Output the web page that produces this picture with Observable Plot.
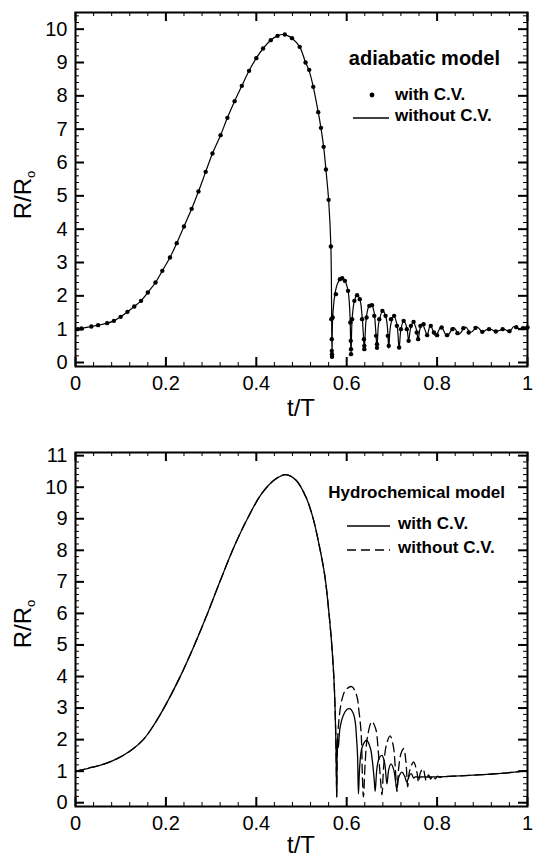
<!DOCTYPE html>
<html>
<head>
<meta charset="utf-8">
<script src="https://cdn.jsdelivr.net/npm/d3@7"></script>
<script src="https://cdn.jsdelivr.net/npm/@observablehq/plot@0.6"></script>
<style>
  body { margin: 0; background: #fff; font-family: "Liberation Sans", Arial, sans-serif; color: #000; }
  #wrap { position: relative; width: 536px; height: 859px; overflow: hidden; background: #fff; }
  .panel { position: absolute; left: 0; }
  .ov { position: absolute; white-space: nowrap; line-height: 1; }
  .rot { transform: translate(-50%, -50%) rotate(-90deg); }
  .ctr { transform: translate(-50%, -50%); }
  .mid { transform: translateY(-50%); }
  .bold { font-weight: bold; }
</style>
</head>
<body>
<div id="wrap"></div>
<script>
// ---------- tick labels ----------
const xTicks = [0, 0.2, 0.4, 0.6, 0.8, 1];
const yTicksTop = [0, 1, 2, 3, 4, 5, 6, 7, 8, 9, 10];
const yTicksBottom = [0, 1, 2, 3, 4, 5, 6, 7, 8, 9, 10, 11];

// ---------- top panel: adiabatic model ----------
const adiabT = [0, 0.013, 0.035, 0.05, 0.07, 0.085, 0.1, 0.115, 0.13, 0.145, 0.16, 0.177, 0.192, 0.209, 0.224, 0.24, 0.257, 0.272, 0.288, 0.303, 0.321, 0.336, 0.352, 0.368, 0.384, 0.4, 0.415, 0.432, 0.447, 0.458, 0.47, 0.479, 0.496, 0.509, 0.517, 0.526, 0.537, 0.543, 0.549, 0.554, 0.56, 0.565, 0.5675,
  0.569, 0.574, 0.58, 0.589, 0.596, 0.603, 0.607, 0.6095,
  0.612, 0.617, 0.623, 0.629, 0.634, 0.637, 0.639,
  0.643, 0.648, 0.654, 0.66, 0.664, 0.667,
  0.671, 0.68, 0.687, 0.691, 0.693,
  0.697, 0.704, 0.711, 0.716,
  0.72, 0.726, 0.733, 0.737,
  0.741, 0.747, 0.754, 0.758,
  0.762, 0.767, 0.774, 0.778,
  0.785, 0.791, 0.797, 0.809, 0.822, 0.837, 0.848, 0.863, 0.874, 0.889, 0.9, 0.915, 0.93, 0.948, 0.96, 0.97, 0.981, 0.996, 1.0];
const adiabR = [1.0, 1.02, 1.08, 1.12, 1.18, 1.25, 1.37, 1.52, 1.68, 1.85, 2.1, 2.4, 2.75, 3.15, 3.58, 4.08, 4.61, 5.13, 5.72, 6.27, 6.82, 7.34, 7.84, 8.3, 8.75, 9.13, 9.42, 9.67, 9.8, 9.84, 9.8, 9.73, 9.47, 9.0, 8.75, 8.27, 7.51, 7.04, 6.47, 5.79, 4.88, 3.48, 0.17,
  1.35, 2.05, 2.38, 2.53, 2.45, 2.15, 1.5, 0.25,
  1.3, 1.85, 2.02, 1.9, 1.4, 0.8, 0.4,
  1.3, 1.65, 1.75, 1.55, 1.0, 0.44,
  1.2, 1.55, 1.35, 0.9, 0.43,
  1.1, 1.4, 1.15, 0.43,
  1.0, 1.25, 1.05, 0.65,
  1.0, 1.22, 1.0, 0.7,
  1.0, 1.16, 0.95, 0.82,
  1.12, 0.95, 0.8, 1.07, 0.8, 1.05, 0.85, 1.06, 0.9, 1.06, 0.92, 1.02, 0.93, 1.0, 0.93, 1.08, 1.02, 1.06, 1.04];

const adiabDotT = [0.005, 0.013, 0.035, 0.05, 0.07, 0.085, 0.1, 0.115, 0.13, 0.145, 0.16, 0.177, 0.192, 0.209, 0.224, 0.24, 0.257, 0.272, 0.288, 0.303, 0.321, 0.336, 0.352, 0.368, 0.384, 0.4, 0.415, 0.432, 0.447, 0.463, 0.479, 0.496, 0.509, 0.517, 0.526, 0.537, 0.543, 0.549, 0.554, 0.56, 0.565,
  0.566, 0.567, 0.567, 0.5675, 0.5675,
  0.569, 0.576, 0.585, 0.59, 0.596, 0.603, 0.608, 0.609, 0.6095, 0.6095,
  0.612, 0.617, 0.623, 0.629, 0.634, 0.638, 0.639, 0.639,
  0.644, 0.65, 0.656, 0.661, 0.665, 0.667, 0.667,
  0.672, 0.679, 0.686, 0.691, 0.693,
  0.698, 0.705, 0.711, 0.716,
  0.72, 0.726, 0.733, 0.737,
  0.742, 0.748, 0.755, 0.758,
  0.763, 0.77, 0.778,
  0.786, 0.793, 0.8, 0.81, 0.822, 0.834, 0.845, 0.858, 0.87, 0.885, 0.9, 0.915, 0.93, 0.945, 0.96, 0.975, 0.99, 1.0];
const adiabDotR = [1.0, 1.02, 1.08, 1.12, 1.18, 1.25, 1.37, 1.52, 1.68, 1.85, 2.1, 2.4, 2.75, 3.15, 3.58, 4.08, 4.61, 5.13, 5.72, 6.27, 6.82, 7.34, 7.84, 8.3, 8.75, 9.13, 9.42, 9.67, 9.8, 9.84, 9.73, 9.47, 9.0, 8.78, 8.27, 7.51, 7.04, 6.47, 5.79, 4.88, 3.48,
  1.3, 0.7, 0.35, 0.25, 0.17,
  1.35, 2.05, 2.5, 2.53, 2.45, 2.15, 1.2, 0.65, 0.4, 0.25,
  1.3, 1.85, 2.02, 1.9, 1.3, 0.7, 0.5, 0.4,
  1.35, 1.7, 1.72, 1.4, 0.8, 0.55, 0.44,
  1.3, 1.55, 1.4, 0.8, 0.5,
  1.3, 1.4, 1.1, 0.45,
  1.0, 1.25, 1.0, 0.65,
  1.1, 1.22, 0.9, 0.7,
  1.1, 1.15, 0.82,
  1.1, 0.9, 0.82, 1.05, 0.82, 1.0, 0.88, 1.03, 0.9, 1.04, 0.92, 1.0, 0.93, 1.0, 0.94, 1.06, 1.03, 1.05];

// ---------- bottom panel: hydrochemical model ----------
const hydroBaseT = [0, 0.03, 0.066, 0.09, 0.12, 0.15, 0.175, 0.201, 0.231, 0.261, 0.292, 0.322, 0.352, 0.382, 0.412, 0.442, 0.465, 0.488, 0.51, 0.525, 0.54, 0.552, 0.563, 0.5675, 0.5725, 0.576, 0.578];
const hydroBaseR = [1.0, 1.1, 1.24, 1.38, 1.63, 2.0, 2.5, 3.14, 3.98, 4.93, 6.0, 7.1, 8.15, 9.05, 9.8, 10.25, 10.4, 10.22, 9.68, 9.05, 8.1, 7.15, 5.67, 4.9, 3.7, 2.0, 0.18];
const hydroWithT = [0.5795, 0.5815, 0.585, 0.592, 0.6, 0.607, 0.614, 0.6185, 0.622, 0.624, 0.626,
  0.629, 0.634, 0.644, 0.652, 0.657, 0.661, 0.663,
  0.667, 0.672, 0.678, 0.684, 0.689,
  0.693, 0.698, 0.704, 0.711,
  0.715, 0.722, 0.728, 0.733, 0.738, 0.743, 0.748, 0.752, 0.76, 0.77, 0.78, 0.79, 0.8, 0.85, 0.9, 0.95, 1.0];
const hydroWithR = [2.05, 1.75, 2.35, 2.75, 2.95, 2.98, 2.85, 2.6, 2.0, 1.5, 0.28,
  1.2, 1.75, 1.98, 1.75, 1.3, 0.7, 0.36,
  1.1, 1.42, 1.5, 1.25, 0.6,
  1.05, 1.23, 1.05, 0.45,
  0.8, 0.97, 0.85, 0.65, 0.85, 0.92, 0.78, 0.82, 0.81, 0.82, 0.81, 0.82, 0.82, 0.85, 0.89, 0.94, 1.02];
const hydroWithoutT = [0.5785, 0.582, 0.59, 0.598, 0.611, 0.622, 0.627, 0.632, 0.635, 0.637,
  0.641, 0.646, 0.6556, 0.664, 0.67, 0.675, 0.678,
  0.682, 0.688, 0.696, 0.703, 0.708, 0.711,
  0.715, 0.72, 0.726, 0.731, 0.735,
  0.739, 0.748, 0.755, 0.759,
  0.763, 0.769, 0.773, 0.776,
  0.781, 0.786, 0.791, 0.796, 0.801, 0.806, 0.812, 0.85, 0.9, 0.95, 1.0];
const hydroWithoutR = [1.0, 2.5, 3.3, 3.58, 3.68, 3.4, 2.92, 2.19, 0.71, 0.18,
  1.3, 2.1, 2.57, 2.35, 1.6, 0.7, 0.25,
  1.2, 1.85, 2.12, 1.8, 1.0, 0.35,
  1.1, 1.55, 1.71, 1.3, 0.5,
  1.0, 1.29, 1.0, 0.65,
  0.95, 1.08, 0.85, 0.7,
  0.88, 0.75, 0.86, 0.76, 0.84, 0.8, 0.82, 0.85, 0.89, 0.94, 1.02];

// ---------- helpers ----------
const rows = (T, R) => T.map((t, i) => ({t, r: R[i]}));
const FONT = '"Liberation Sans", Arial, Helvetica, sans-serif';
const notOn = (step) => (v) => Math.abs(v / step - Math.round(v / step)) > 1e-6;
const xMinor = d3.range(0, 1.0001, 0.04).map(v => +v.toFixed(4)).filter(notOn(0.2));

const W = 536, ML = 75, MR = 9;
const innerW = W - ML - MR;

// inward frame ticks as short rules (full-span rules shortened with insets)
function inwardTicks(xVals, yVals, size, width, innerH) {
  const o = {stroke: "#000", strokeWidth: width};
  return [
    Plot.ruleX(xVals, {...o, x: d => d, insetTop: innerH - size}),
    Plot.ruleX(xVals, {...o, x: d => d, insetBottom: innerH - size}),
    Plot.ruleY(yVals, {...o, y: d => d, insetRight: innerW - size}),
    Plot.ruleY(yVals, {...o, y: d => d, insetLeft: innerW - size})
  ];
}

function framePanel({height, marginTop, marginBottom, yDomain, yMajor, marks}) {
  const yMinor = d3.range(0, yDomain[1], 0.2).map(v => +v.toFixed(4)).filter(notOn(1));
  const innerH = height - marginTop - marginBottom;
  const fmt = d => String(d);
  return Plot.plot({
    width: W, height,
    marginLeft: ML, marginRight: MR, marginTop, marginBottom,
    x: {domain: [0, 1], label: null},
    y: {domain: yDomain, label: null},
    style: {fontFamily: FONT, fontSize: "20px", color: "#000", background: "#fff", overflow: "visible"},
    marks: [
      ...marks,
      ...inwardTicks(xMinor, yMinor, 4, 1, innerH),
      ...inwardTicks(xTicks, yMajor, 9, 2, innerH),
      Plot.frame({stroke: "#000", strokeWidth: 2}),
      Plot.axisX(xTicks, {anchor: "bottom", tickSize: 0, tickPadding: 9, tickFormat: fmt, label: null, fontSize: 20}),
      Plot.axisY(yMajor, {anchor: "left", tickSize: 0, tickPadding: 8, tickFormat: fmt, label: null, fontSize: 20})
    ]
  });
}

const wrap = document.getElementById("wrap");

const topPlot = framePanel({
  height: 430, marginTop: 12, marginBottom: 64, yDomain: [-0.12, 10.5], yMajor: yTicksTop,
  marks: [
    Plot.line(rows(adiabT, adiabR), {x: "t", y: "r", curve: "catmull-rom", stroke: "#000", strokeWidth: 1.2}),
    Plot.dot(rows(adiabDotT, adiabDotR), {x: "t", y: "r", r: 2.2, fill: "#000", stroke: "none"})
  ]
});
topPlot.classList.add("panel");
topPlot.style.top = "0px";
wrap.appendChild(topPlot);

const bottomPlot = framePanel({
  height: 429, marginTop: 22, marginBottom: 53, yDomain: [-0.12, 11.1], yMajor: yTicksBottom,
  marks: [
    Plot.line(rows(hydroBaseT.concat(hydroWithoutT), hydroBaseR.concat(hydroWithoutR)),
      {x: "t", y: "r", curve: "catmull-rom", stroke: "#000", strokeWidth: 1.3, strokeDasharray: "9,5"}),
    Plot.line(rows(hydroBaseT.concat(hydroWithT), hydroBaseR.concat(hydroWithR)),
      {x: "t", y: "r", curve: "catmull-rom", stroke: "#000", strokeWidth: 1.3})
  ]
});
bottomPlot.classList.add("panel");
bottomPlot.style.top = "430px";
wrap.appendChild(bottomPlot);

// ---------- overlay text: axis titles and legends ----------
function ov(html, css, cls) {
  const d = document.createElement("div");
  d.className = "ov " + (cls || "");
  d.innerHTML = html;
  Object.assign(d.style, css);
  wrap.appendChild(d);
  return d;
}
const yTitle = 'R/R<span style="font-size:0.55em;vertical-align:-0.25em">o</span>';
ov(yTitle, {left: "24px", top: "195px", fontSize: "24px"}, "rot");
ov(yTitle, {left: "24px", top: "624px", fontSize: "24px"}, "rot");
ov("t/T", {left: "301px", top: "408px", fontSize: "24px"}, "ctr");
ov("t/T", {left: "301px", top: "845px", fontSize: "24px"}, "ctr");

// top legend
ov("adiabatic model", {right: "36px", top: "58px", fontSize: "20px"}, "mid bold");
ov('<svg width="8" height="8"><circle cx="4" cy="4" r="2.4" fill="#000"/></svg>', {left: "368px", top: "94px"}, "mid");
ov("with C.V.", {left: "395px", top: "94px", fontSize: "17px"}, "mid bold");
ov('<svg width="36" height="4"><line x1="0" y1="2" x2="36" y2="2" stroke="#000" stroke-width="1.4"/></svg>', {left: "353px", top: "115px"}, "mid");
ov("without C.V.", {left: "395px", top: "115px", fontSize: "17px"}, "mid bold");

// bottom legend
ov("Hydrochemical model", {right: "31px", top: "492px", fontSize: "17px"}, "mid bold");
ov('<svg width="43" height="4"><line x1="0" y1="2" x2="43" y2="2" stroke="#000" stroke-width="1.4"/></svg>', {left: "347px", top: "523px"}, "mid");
ov("with C.V.", {left: "398px", top: "523px", fontSize: "17px"}, "mid bold");
ov('<svg width="43" height="4"><line x1="0" y1="2" x2="43" y2="2" stroke="#000" stroke-width="1.4" stroke-dasharray="9,5"/></svg>', {left: "347px", top: "547px"}, "mid");
ov("without C.V.", {left: "398px", top: "547px", fontSize: "17px"}, "mid bold");
</script>
</body>
</html>
